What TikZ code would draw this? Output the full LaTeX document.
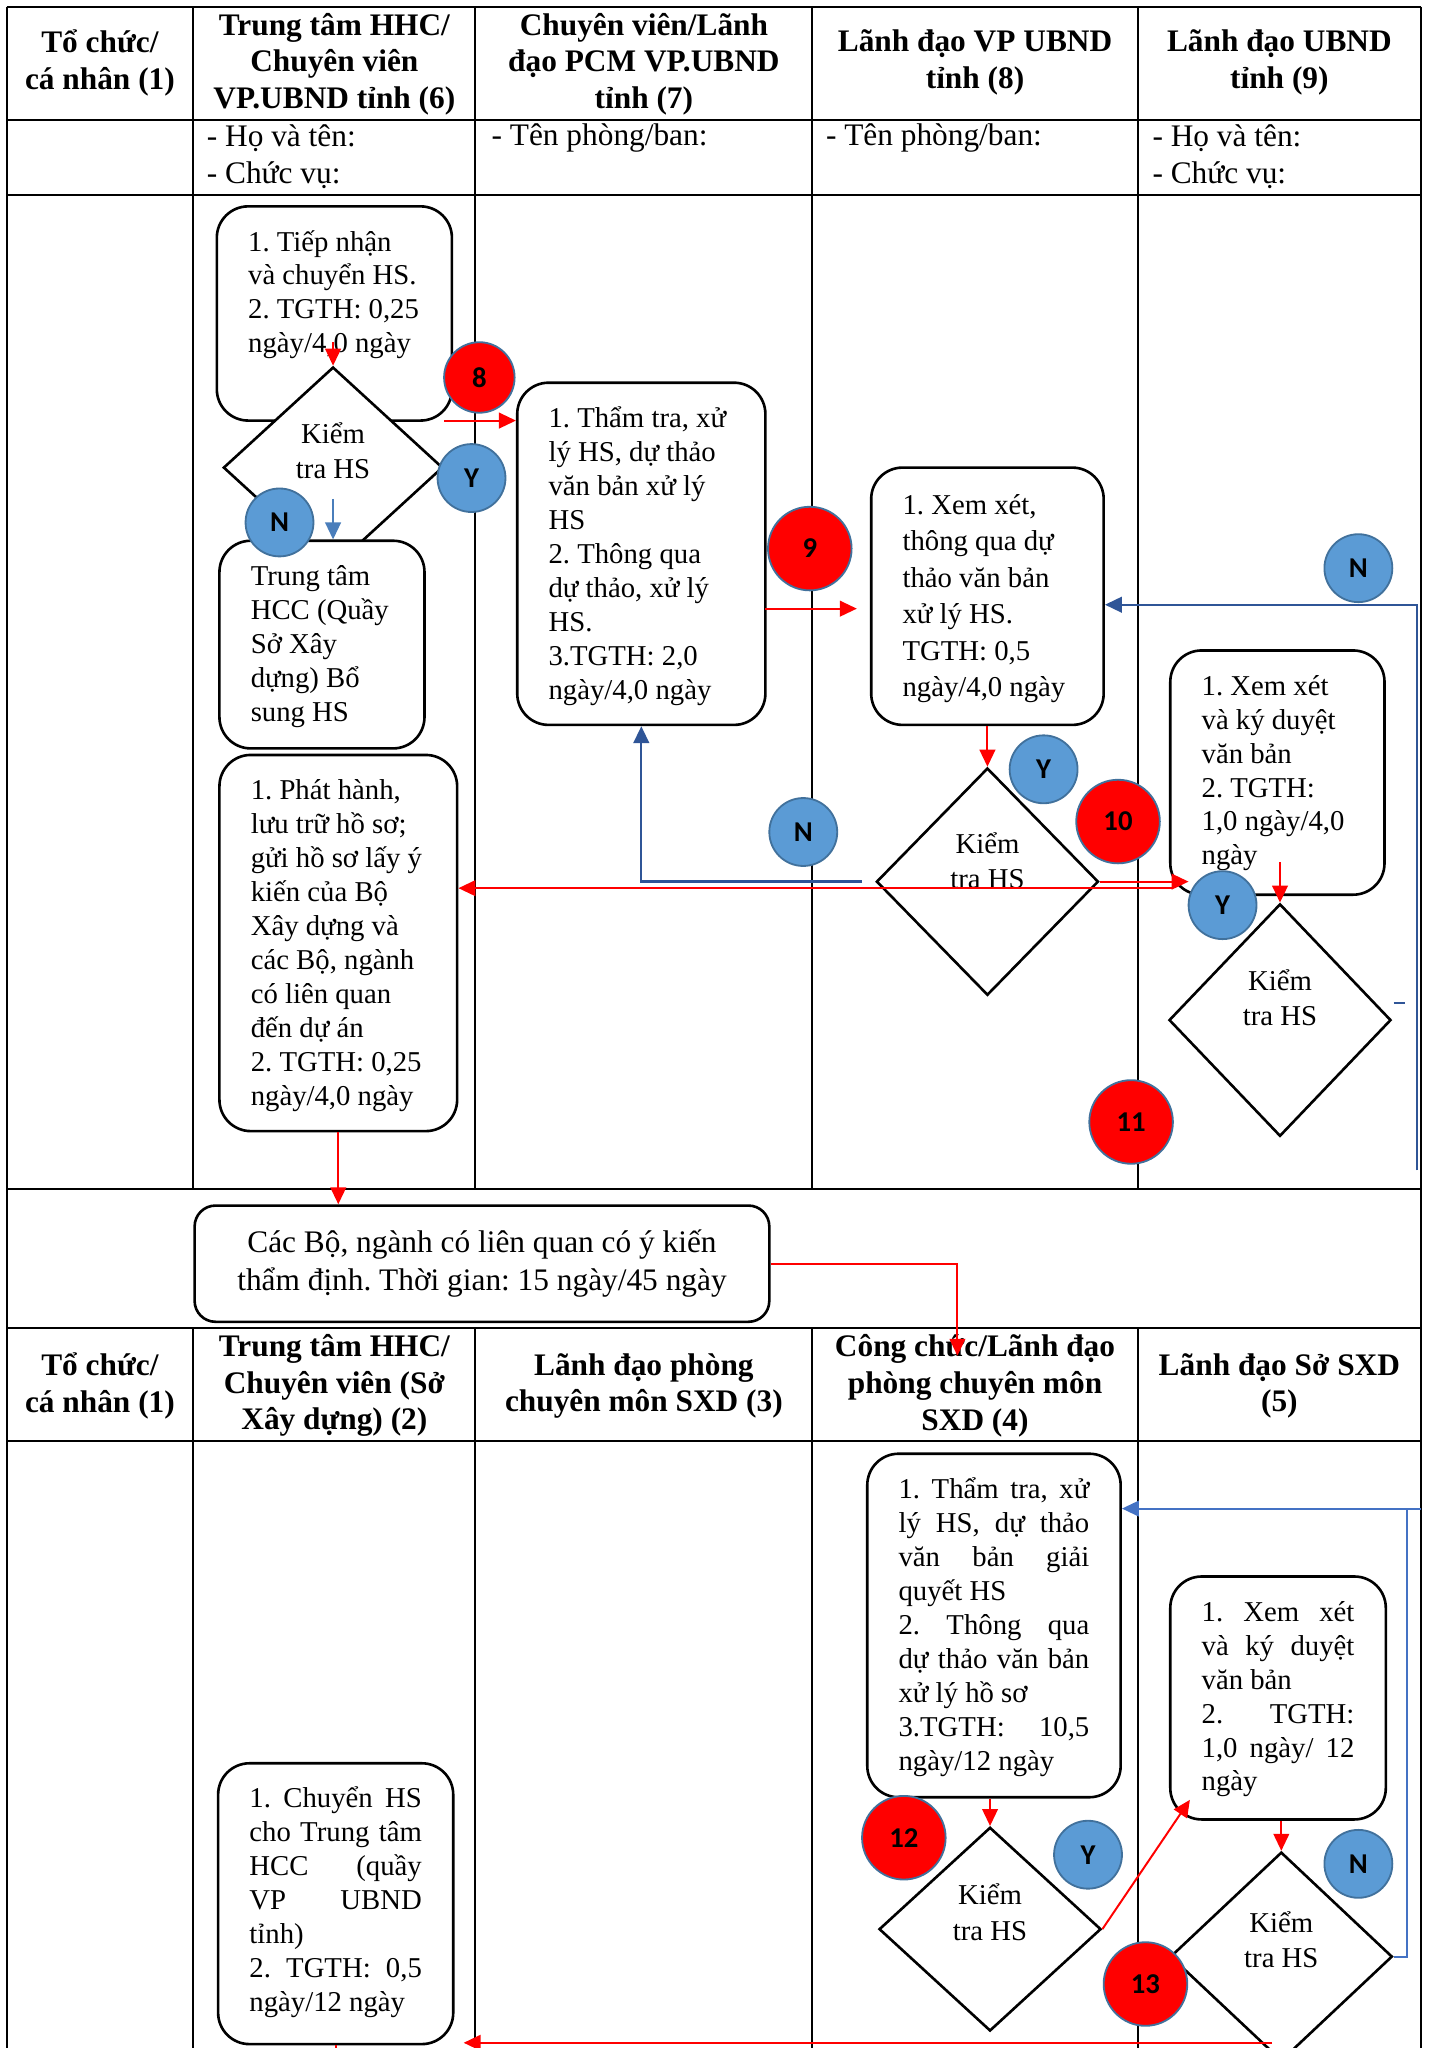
\documentclass[tikz,border=0pt]{standalone}
\usepackage{fontspec}
\setmainfont{Liberation Serif}
\newfontfamily\circfont{Carlito}
\usepackage{tikz}
\usetikzlibrary{shapes.geometric, arrows.meta}
\frenchspacing
\definecolor{circred}{HTML}{FF0000}
\definecolor{circblue}{HTML}{5B9BD5}
\definecolor{circedge}{HTML}{41719C}
\definecolor{navyline}{HTML}{2F5597}
\definecolor{lightline}{HTML}{4A7EBB}
\definecolor{midline}{HTML}{4472C4}
\tikzstyle{grid}=[draw, line width=0.75pt]
\tikzstyle{hdr}=[align=center, inner sep=0pt, font=\bfseries\fontsize{12}{14}\selectfont]
\tikzstyle{info}=[align=left, anchor=west, inner sep=0pt, font=\fontsize{12}{14}\selectfont]
\tikzstyle{box}=[draw, line width=1pt, rounded corners=12pt, fill=white, inner xsep=12pt, inner ysep=8pt, font=\fontsize{11}{13}\selectfont]
\tikzstyle{check}=[draw, line width=1pt, diamond, fill=white, inner sep=0pt, font=\fontsize{11}{13.5}\selectfont]
\tikzstyle{numc}=[circle, draw=circedge, line width=0.7pt, fill=circred, inner sep=0pt, minimum size=32pt, font=\circfont\bfseries\fontsize{11}{13}\selectfont]
\tikzstyle{ync}=[numc, fill=circblue, minimum size=26pt]
\tikzstyle{redline}=[draw, red, line width=0.75pt, -{Triangle[length=6.5pt,width=6pt]}]
\tikzstyle{navyarrow}=[draw, navyline, line width=0.9pt, -{Triangle[length=6.5pt,width=6pt]}]
\tikzstyle{lightarrow}=[draw, lightline, line width=0.75pt, -{Triangle[length=6.5pt,width=6pt]}]
\tikzstyle{midarrow}=[draw, midline, line width=0.75pt, -{Triangle[length=6.5pt,width=6pt]}]
\newcommand{\boxtxt}[3]{\parbox[t][#2][t]{#1}{\begin{tabular}[t]{@{}l@{}}#3\end{tabular}}}
\newcommand{\jl}[2]{\makebox[#1][s]{#2}}
\newcommand{\kiemtra}[1]{\raisebox{#1}[\height][\depth]{\begin{tabular}{@{}c@{}}Kiểm\\tra HS\end{tabular}}}
\begin{document}
\begin{tikzpicture}[x=0.5pt, y=-0.5pt]
		\useasboundingbox (0,0) rectangle (1094,1568);
		\draw[grid] (5,5) -- (1088,5);
		\draw[grid] (5,92) -- (1088,92);
		\draw[grid] (5,149) -- (1088,149);
		\draw[grid] (5,910) -- (1088,910);
		\draw[grid] (5,1017) -- (1088,1017);
		\draw[grid] (5,1103) -- (1088,1103);
		\draw[grid] (5,5) -- (5,1568);
		\draw[grid] (1088,5) -- (1088,1568);
		\draw[grid] (148,5) -- (148,910);
		\draw[grid] (364,5) -- (364,910);
		\draw[grid] (622,5) -- (622,910);
		\draw[grid] (871,5) -- (871,910);
		\draw[grid] (148,1017) -- (148,1568);
		\draw[grid] (364,1017) -- (364,1568);
		\draw[grid] (622,1017) -- (622,1568);
		\draw[grid] (871,1017) -- (871,1568);
		\node[hdr] (h1) at (76.5,48) {Tổ chức/\\cá nhân (1)};
		\node[hdr] (h6) at (256,49) {Trung tâm HHC/\\Chuyên viên\\VP.UBND tỉnh (6)};
		\node[hdr] (h7) at (493,49) {Chuyên viên/Lãnh\\đạo PCM VP.UBND\\tỉnh (7)};
		\node[hdr] (h8) at (746.5,48) {Lãnh đạo VP UBND\\tỉnh (8)};
		\node[hdr] (h9) at (979.5,48) {Lãnh đạo UBND\\tỉnh (9)};
		\node[info] (i6) at (158,120) {- Họ và tên:\\- Chức vụ:};
		\node[info] (i7) at (376,106) {- Tên phòng/ban:};
		\node[info] (i8) at (632,106) {- Tên phòng/ban:};
		\node[info] (i9) at (882,120) {- Họ và tên:\\- Chức vụ:};
		\node[hdr] (g1) at (76.5,1061) {Tổ chức/\\cá nhân (1)};
		\node[hdr] (g2) at (256,1061) {Trung tâm HHC/\\Chuyên viên (Sở\\Xây dựng) (2)};
		\node[hdr] (g3) at (493,1061) {Lãnh đạo phòng\\chuyên môn SXD (3)};
		\node[hdr] (g4) at (746.5,1061) {Công chức/Lãnh đạo\\phòng chuyên môn\\SXD (4)};
		\node[hdr] (g5) at (979.5,1061) {Lãnh đạo Sở SXD\\(5)};
		\node[box] (tiepnhan) at (256,240) {\boxtxt{66pt}{66pt}{1. Tiếp nhận\\và chuyển HS.\\2. TGTH: 0,25\\ngày/4,0 ngày}};
		\node[check, minimum width=84pt, minimum height=77pt] (kt1) at (255,358) {\kiemtra{5.25pt}};
		\node[box] (bosung) at (246.5,493.5) {\boxtxt{54.5pt}{63.5pt}{Trung tâm\\HCC (Quầy\\Sở Xây\\dựng) Bổ\\sung HS}};
		\node[box] (phathanh) at (259,722) {\boxtxt{67pt}{128pt}{1. Phát hành,\\lưu trữ hồ sơ;\\gửi hồ sơ lấy ý\\kiến của Bộ\\Xây dựng và\\các Bộ, ngành\\có liên quan\\đến dự án\\2. TGTH: 0,25\\ngày/4,0 ngày}};
		\node[box] (thamtra) at (491,424) {\boxtxt{71pt}{115pt}{1. Thẩm tra, xử\\lý HS, dự thảo\\văn bản xử lý\\HS\\2. Thông qua\\dự thảo, xử lý\\HS.\\3.TGTH: 2,0\\ngày/4,0 ngày}};
		\node[box, font=\fontsize{11}{14}\selectfont] (xemxet) at (756,456.5) {\boxtxt{65pt}{82.5pt}{1. Xem xét,\\thông qua dự\\thảo văn bản\\xử lý HS.\\TGTH: 0,5\\ngày/4,0 ngày}};
		\node[check, minimum width=85pt, minimum height=87pt] (kt2) at (756,675) {\kiemtra{6.75pt}};
		\node[box] (kyduyet) at (978,591.5) {\boxtxt{58pt}{77.5pt}{1. Xem xét\\và ký duyệt\\văn bản\\2. TGTH:\\1,0 ngày/4,0\\ngày}};
		\node[check, minimum width=85pt, minimum height=89pt] (kt3) at (980,781) {\kiemtra{7.25pt}};
		\node[box, rounded corners=8pt, align=center, minimum width=220pt, minimum height=44.5pt, font=\fontsize{12}{14.5}\selectfont] (ykien) at (369,967.5) {Các Bộ, ngành có liên quan có ý kiến\\thẩm định. Thời gian: 15 ngày/45 ngày};
		\node[box] (thamtra2) at (761,1244.5) {\boxtxt{73pt}{115.5pt}{\jl{73pt}{1. Thẩm tra, xử}\\\jl{73pt}{lý HS, dự thảo}\\\jl{73pt}{văn bản giải}\\quyết HS\\\jl{73pt}{2. Thông qua}\\\jl{73pt}{dự thảo văn bản}\\xử lý hồ sơ\\\jl{73pt}{3.TGTH: 10,5}\\ngày/12 ngày}};
		\node[check, minimum width=85pt, minimum height=78pt] (kt4) at (758,1477) {\kiemtra{5.25pt}};
		\node[box] (kyduyet2) at (978.5,1300) {\boxtxt{58.5pt}{77pt}{\jl{58.5pt}{1. Xem xét}\\\jl{58.5pt}{và ký duyệt}\\văn bản\\\jl{58.5pt}{2. TGTH:}\\\jl{58.5pt}{1,0 ngày/ 12}\\ngày}};
		\node[check, minimum width=85pt, minimum height=80pt] (kt5) at (981,1498) {\kiemtra{5.25pt}};
		\node[box] (chuyenhs) at (257,1457.5) {\boxtxt{66pt}{91.5pt}{\jl{66pt}{1. Chuyển HS}\\\jl{66pt}{cho Trung tâm}\\\jl{66pt}{HCC (quầy}\\\jl{66pt}{VP UBND}\\tỉnh)\\\jl{66pt}{2. TGTH: 0,5}\\ngày/12 ngày}};
		\coordinate (a1) at (255,262);
		\coordinate (a2) at (340,322);
		\coordinate (a3) at (255,382);
		\coordinate (a4) at (586,466);
		\coordinate (a7) at (910,675);
		\coordinate (a8) at (897,680);
		\coordinate (a9) at (980,660);
		\coordinate (a10) at (1085,896);
		\coordinate (a10b) at ([yshift=-3.25pt]xemxet.east);
		\coordinate (a12) at (733,1038);
		\coordinate (a14) at (911,1378);
		\coordinate (a16) at (1077,1155);
		\coordinate (a17) at (974,1564);
		\draw[redline] (a1) -- (kt1.north);
		\draw[redline] (a2) -- (a2 -| thamtra.west);
		\draw[lightarrow] (a3) -- (a3 |- bosung.north);
		\draw[redline, shorten >=5pt] (a4) -- (a4 -| xemxet.west);
		\draw[redline] (xemxet.south) -- (kt2.north);
		\draw[navyarrow, shorten <=5pt] (kt2.west) -| (thamtra.south);
		\draw[redline] (kt2.east) -- (a7);
		\draw[redline] (a8) -- (a8 -| phathanh.east);
		\draw[redline] (a9) -- (kt3.north);
		\draw[navyarrow] (a10) |- (a10b);
		\draw[navyline, line width=0.9pt] (1067,768) -- (1076,768);
		\draw[redline] (phathanh.south) -- (phathanh.south |- ykien.north);
		\draw[redline] (ykien.east) -| (a12);
		\draw[redline] (kt4.north |- thamtra2.south) -- (kt4.north);
		\draw[redline] (kt4.east) -- (a14);
		\draw[redline] (kt5.north |- kyduyet2.south) -- (kt5.north);
		\draw[midarrow] (kt5.east) -| (a16) -- (a16 -| thamtra2.east);
		\draw[midline, line width=0.75pt] (a16) -- (1088,1155);
		\draw[redline, shorten >=3.5pt] (a17) -- (a17 -| chuyenhs.east);
		\draw[red, line width=0.75pt] (chuyenhs.south) -- ++(0,8);
		\node[numc, minimum size=27pt] (c8) at (367,289) {8};
		\node[ync] (y1) at (361,366) {Y};
		\node[ync] (n1) at (214,400) {N};
		\node[numc] (c9) at (620,420) {9};
		\node[ync] (n2) at (615,637) {N};
		\node[ync] (y2) at (799,589) {Y};
		\node[numc] (c10) at (856,629) {10};
		\node[ync] (n3) at (1040,435) {N};
		\node[ync] (y3) at (936,693) {Y};
		\node[numc] (c11) at (866,859) {11};
		\node[numc] (c12) at (692,1407) {12};
		\node[ync] (y4) at (833,1420) {Y};
		\node[ync] (n4) at (1040,1427) {N};
		\node[numc] (c13) at (877,1519) {13};
	\end{tikzpicture}
\end{document}
